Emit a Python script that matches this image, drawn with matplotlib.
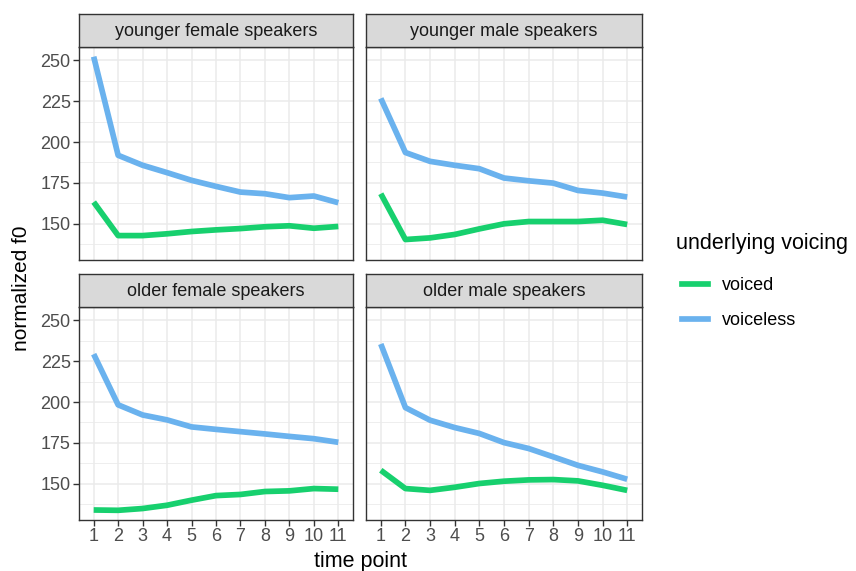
import matplotlib
matplotlib.use("Agg")
import matplotlib.pyplot as plt

plt.rcParams['font.family'] = ['Liberation Sans', 'DejaVu Sans']

# data
time_points = [1, 2, 3, 4, 5, 6, 7, 8, 9, 10, 11]
panel_titles = ["younger female speakers", "younger male speakers",
                "older female speakers", "older male speakers"]

young_female_voiced = [163.3, 142.8, 142.8, 143.9, 145.3, 146.3, 147.1, 148.2, 148.8, 147.3, 148.4]
young_female_voiceless = [252.2, 191.9, 185.8, 181.3, 176.6, 172.9, 169.4, 168.4, 166.0, 167.0, 162.9]
young_male_voiced = [168.4, 140.4, 141.4, 143.5, 146.9, 150.0, 151.4, 151.4, 151.4, 152.2, 149.6]
young_male_voiceless = [226.7, 193.6, 188.2, 185.8, 183.7, 178.0, 176.3, 174.9, 170.4, 168.8, 166.4]
old_female_voiced = [134.0, 133.8, 134.9, 136.9, 140.0, 142.8, 143.5, 145.3, 145.7, 147.1, 146.7]
old_female_voiceless = [229.3, 198.3, 192.1, 189.1, 184.8, 183.3, 181.9, 180.5, 179.0, 177.6, 175.4]
old_male_voiced = [158.3, 147.1, 146.0, 147.9, 150.2, 151.6, 152.4, 152.6, 151.8, 149.1, 146.0]
old_male_voiceless = [235.5, 196.6, 188.9, 184.4, 180.8, 175.2, 171.6, 166.5, 161.3, 157.3, 152.8]

voiced = [young_female_voiced, young_male_voiced, old_female_voiced, old_male_voiced]
voiceless = [young_female_voiceless, young_male_voiceless, old_female_voiceless, old_male_voiceless]

green = "#17D06E"
blue = "#6AB2EE"
lw = 4.1

W, H = 856, 571
fig = plt.figure(figsize=(W / 100, H / 100), dpi=100)

# panel boxes in pixels
cols = [(79, 353), (366, 642)]
rows = [(47, 260), (307, 520)]
strip_h = 33

all_vals = sum(voiced + voiceless, [])
lo, hi = min(all_vals), max(all_vals)
pad = 0.05 * (hi - lo)

for i, title in enumerate(panel_titles):
    r, c = divmod(i, 2)
    x0, x1 = cols[c]
    y0, y1 = rows[r]
    ax = fig.add_axes([x0 / W, 1 - y1 / H, (x1 - x0) / W, (y1 - y0) / H])
    ax.set_xlim(0.4, 11.6)
    ax.set_ylim(lo - pad, hi + pad)
    ax.set_xticks(time_points)
    ax.set_yticks([150, 175, 200, 225, 250])
    ax.set_yticks([137.5, 162.5, 187.5, 212.5, 237.5], minor=True)
    ax.grid(True, which='major', color='#EBEBEB', lw=1.1)
    ax.grid(True, which='minor', axis='y', color='#EBEBEB', lw=0.6)
    ax.set_axisbelow(True)
    ax.plot(time_points, voiced[i], color=green, lw=lw, solid_capstyle='butt')
    ax.plot(time_points, voiceless[i], color=blue, lw=lw, solid_capstyle='butt')
    for s in ax.spines.values():
        s.set_color('#333333')
        s.set_linewidth(1.0)
    ax.tick_params(which='minor', length=0)
    ax.tick_params(which='major', length=4, width=1.0, color='#333333',
                   labelsize=13, labelcolor='#4D4D4D', pad=2)
    if c == 1:
        ax.tick_params(axis='y', length=0, labelleft=False)
    if r == 0:
        ax.tick_params(axis='x', length=0, labelbottom=False)

    # strip
    sax = fig.add_axes([x0 / W, 1 - y0 / H, (x1 - x0) / W, strip_h / H])
    sax.set_xticks([])
    sax.set_yticks([])
    sax.set_facecolor('#D9D9D9')
    for s in sax.spines.values():
        s.set_color('#333333')
        s.set_linewidth(1.0)
    sax.text(0.5, 0.47, title, ha='center', va='center', fontsize=13,
             color='#1A1A1A', transform=sax.transAxes)

fig.text(360 / W, 1 - 561 / H, "time point", ha='center', va='center', fontsize=15.5)
fig.text(22 / W, 1 - 288 / H, "normalized f0", ha='center', va='center',
         fontsize=15, rotation=90)

# legend
fig.text(676 / W, 1 - 244 / H, "underlying voicing", ha='left', va='center', fontsize=15.5)
handles = [plt.Line2D([], [], color=green, lw=lw), plt.Line2D([], [], color=blue, lw=lw)]
fig.legend(handles, ["voiced", "voiceless"], loc='upper left',
           bbox_to_anchor=(666 / W, 1 - 261 / H), frameon=False, fontsize=13,
           handlelength=1.4, labelspacing=1.0, handletextpad=0.8)

fig.savefig("out.png", dpi=100)
